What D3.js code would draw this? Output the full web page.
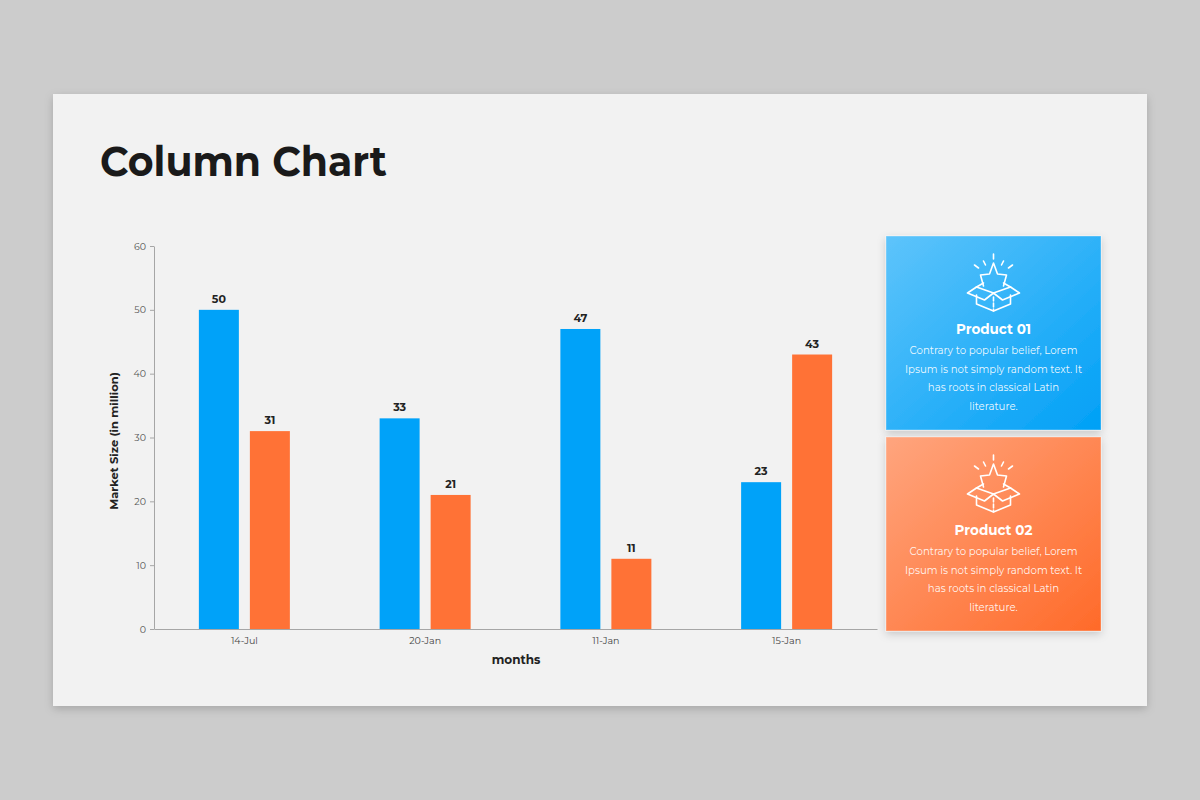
<!DOCTYPE html>
<html>
<head>
<meta charset="utf-8">
<script src="https://cdn.jsdelivr.net/npm/d3@7"></script>
<style>
  body { margin: 0; background: #cccccc; }
  svg { display: block; font-family: "Montserrat", "DejaVu Sans", sans-serif; }
</style>
</head>
<body>
<svg id="chart" width="1200" height="800"></svg>
<script>
// chart values
var months = ["14-Jul", "20-Jan", "11-Jan", "15-Jan"];
var product01 = [50, 33, 47, 23];
var product02 = [31, 21, 11, 43];
var products = ["Product 01", "Product 02"];
var yTicks = [0, 10, 20, 30, 40, 50, 60];
var blurb = ["Contrary to popular belief, Lorem", "Ipsum is not simply random text. It",
             "has roots in classical Latin", "literature."];

var colors = ["#00a2f9", "#ff7236"];

var svg = d3.select("#chart");
var defs = svg.append("defs");

// soft shadow for the slide and the cards
var shadow = defs.append("filter").attr("id", "shadow")
    .attr("x", "-10%").attr("y", "-10%").attr("width", "120%").attr("height", "130%");
shadow.append("feDropShadow").attr("dx", 0).attr("dy", 3).attr("stdDeviation", 4)
    .attr("flood-color", "#000").attr("flood-opacity", 0.18);

var grads = [["#5ec4fb", "#00a0f6"], ["#ffa57e", "#ff6a29"]];
grads.forEach(function (g, i) {
    var lg = defs.append("linearGradient").attr("id", "card" + i)
        .attr("x1", "0%").attr("y1", "0%").attr("x2", "100%").attr("y2", "100%");
    lg.append("stop").attr("offset", "0%").attr("stop-color", g[0]);
    lg.append("stop").attr("offset", "100%").attr("stop-color", g[1]);
});

// slide
svg.append("rect").attr("x", 53).attr("y", 94).attr("width", 1094).attr("height", 612)
    .attr("fill", "#f2f2f2").attr("filter", "url(#shadow)");

svg.append("text").attr("x", 100).attr("y", 176)
    .attr("font-size", 41).attr("font-weight", 700).attr("fill", "#1a1a1a")
    .attr("textLength", 287).attr("lengthAdjust", "spacingAndGlyphs")
    .text("Column Chart");

// scales
var x = d3.scaleBand().domain(months).range([154, 877]);
var xSub = d3.scaleBand().domain(products).range([0, 91]).paddingInner(0.216);
var y = d3.scaleLinear().domain([0, 60]).range([629, 246]);

// axes
var yAxis = svg.append("g").attr("transform", "translate(154,0)")
    .call(d3.axisLeft(y).tickValues(yTicks).tickSize(4).tickSizeOuter(0).tickPadding(4));
yAxis.select(".domain").attr("stroke", "#a6a6a6");
yAxis.selectAll(".tick line").attr("stroke", "#a6a6a6");
yAxis.selectAll(".tick text").attr("fill", "#555").attr("font-size", 9.5)
    .attr("font-family", "Montserrat, 'DejaVu Sans', sans-serif");

var xAxis = svg.append("g").attr("transform", "translate(0,629)")
    .call(d3.axisBottom(x).tickSize(0).tickSizeOuter(0).tickPadding(8));
xAxis.select(".domain").attr("stroke", "#a6a6a6");
xAxis.selectAll(".tick text").attr("fill", "#444").attr("font-size", 9.5)
    .attr("font-family", "Montserrat, 'DejaVu Sans', sans-serif");

svg.append("text").attr("x", 516).attr("y", 664).attr("text-anchor", "middle")
    .attr("font-size", 12).attr("font-weight", 700).attr("fill", "#222").text("months");
svg.append("text").attr("transform", "translate(118,441) rotate(-90)")
    .attr("text-anchor", "middle").attr("font-size", 11.5).attr("font-weight", 700)
    .attr("fill", "#222").text("Market Size (in million)");

// bars
var rows = months.map(function (m, i) {
    return { month: m, vals: [product01[i], product02[i]] };
});
var groups = svg.append("g").selectAll("g").data(rows).enter().append("g")
    .attr("transform", function (d) {
        return "translate(" + (x(d.month) + x.bandwidth() / 2 - 45.5) + ",0)";
    });
var cells = groups.selectAll("g").data(function (d) {
    return d.vals.map(function (v, j) { return { key: products[j], v: v, j: j }; });
}).enter().append("g");
cells.append("rect")
    .attr("x", function (d) { return xSub(d.key); })
    .attr("y", function (d) { return y(d.v); })
    .attr("width", xSub.bandwidth())
    .attr("height", function (d) { return y(0) - y(d.v); })
    .attr("fill", function (d) { return colors[d.j]; });
cells.append("text")
    .attr("x", function (d) { return xSub(d.key) + xSub.bandwidth() / 2; })
    .attr("y", function (d) { return y(d.v) - 7; })
    .attr("text-anchor", "middle").attr("font-size", 11).attr("font-weight", 700)
    .attr("fill", "#222").text(function (d) { return d.v; });

// product cards
function drawIcon(g, cx, top) {
    var ic = g.append("g").attr("transform", "translate(" + cx + "," + top + ")")
        .attr("fill", "none").attr("stroke", "#fff").attr("stroke-width", 1.6)
        .attr("stroke-linejoin", "round").attr("stroke-linecap", "round");
    // rays
    ic.append("path").attr("d", "M0,0 L0,5 M-10,7 L-8,11 M10,7 L8,11 M-19,11 L-15,14 M19,11 L15,14");
    // star poking out of the box
    ic.append("path").attr("d", "M-10,32 L-13,21 L-4,20 L0,9 L4,20 L13,21 L10,32");
    // open box
    ic.append("path").attr("d", "M-17,33 L0,39 L17,33");
    ic.append("path").attr("d", "M-17,33 L-26,39 L-9,46 L0,39 L9,46 L26,39 L17,33");
    ic.append("path").attr("d", "M-17,33 L-10,29 M17,33 L10,29");
    ic.append("path").attr("d", "M-17,41 L-17,50 L0,57 L17,50 L17,41");
    ic.append("path").attr("d", "M0,43 L0,57").attr("stroke-dasharray", "4,2");
}

var cardTops = [236, 437];
products.forEach(function (p, i) {
    var t = cardTops[i];
    var card = svg.append("g");
    card.append("rect").attr("x", 886).attr("y", t).attr("width", 215).attr("height", 194)
        .attr("fill", "url(#card" + i + ")").attr("stroke", "rgba(255,255,255,0.35)")
        .attr("filter", "url(#shadow)");
    drawIcon(card, 993.5, t + 18);
    card.append("text").attr("x", 993.5).attr("y", t + 98).attr("text-anchor", "middle")
        .attr("font-size", 13.5).attr("font-weight", 700).attr("fill", "#fff").text(p);
    card.selectAll(".line").data(blurb).enter().append("text")
        .attr("x", 993.5).attr("y", function (d, k) { return t + 118 + k * 18.5; })
        .attr("text-anchor", "middle").attr("font-size", 10.2).attr("fill", "#fff")
        .attr("fill-opacity", 0.92).text(function (d) { return d; });
});
</script>
</body>
</html>
